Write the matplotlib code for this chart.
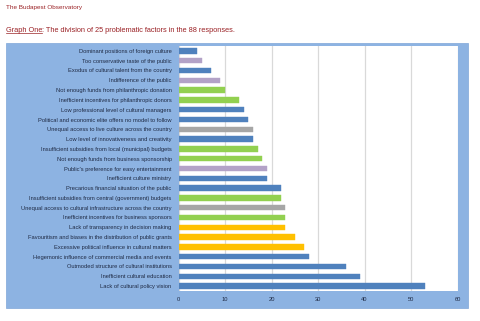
import numpy as np
import matplotlib
matplotlib.use("Agg")
import matplotlib.pyplot as plt
from matplotlib.patches import Rectangle
from matplotlib.lines import Line2D
from matplotlib import font_manager

# data (top to bottom as in the chart)
factors = [
    "Dominant positions of foreign culture",
    "Too conservative taste of the public",
    "Exodus of cultural talent from the country",
    "Indifference of the public",
    "Not enough funds from philanthropic donation",
    "Inefficient incentives for philanthropic donors",
    "Low professional level of cultural managers",
    "Political and economic elite offers no model to follow",
    "Unequal access to live culture across the country",
    "Low level of innovativeness and creativity",
    "Insufficient subsidies from local (municipal) budgets",
    "Not enough funds from business sponsorship",
    "Public's preference for easy entertainment",
    "Inefficient culture ministry",
    "Precarious financial situation of the public",
    "Insufficient subsidies from central (government) budgets",
    "Unequal access to cultural infrastructure across the country",
    "Inefficient incentives for business sponsors",
    "Lack of transparency in decision making",
    "Favouritism and biases in the distribution of public grants",
    "Excessive political influence in cultural matters",
    "Hegemonic influence of commercial media and events",
    "Outmoded structure of cultural institutions",
    "Inefficient cultural education",
    "Lack of cultural policy vision",
]
counts = [4, 5, 7, 9, 10, 13, 14, 15, 16, 16, 17, 18, 19, 19, 22, 22, 23, 23, 23, 25, 27, 28, 36, 39, 53]
groups = ["b", "p", "b", "p", "g", "g", "b", "b", "k", "b", "g", "g", "p", "b", "b", "g", "k", "g",
          "o", "o", "o", "b", "b", "b", "b"]
palette = {"b": "#4F81BD", "p": "#B3A2C7", "g": "#92D050", "k": "#A6A6A6", "o": "#FFC000"}
xticks = [0, 10, 20, 30, 40, 50, 60]

W, H = 480, 321
fig = plt.figure(figsize=(W / 100, H / 100), dpi=100)
fig.patch.set_facecolor("white")

fam = "Liberation Sans Narrow"
try:
    font_manager.findfont(fam, fallback_to_default=False)
except Exception:
    fam = "Liberation Sans"


def fx(px):
    return px / W


def fy(py):
    return 1 - py / H


def fit(t, width_px):
    # shrink/grow a text so it spans the given width in pixels
    fig.canvas.draw()
    w = t.get_window_extent().width
    t.set_fontsize(t.get_fontsize() * width_px / w)


red = "#9B2226"
t0 = fig.text(fx(6), fy(8), "The Budapest Observatory", fontsize=5, color=red,
              family=fam, va="center")
fit(t0, 78)
t1 = fig.text(fx(6), fy(30), "Graph One", fontsize=5.6, color=red, family=fam, va="center")
t2 = fig.text(fx(40), fy(30), ": The division of 25 problematic factors in the 88 responses.",
              fontsize=5.6, color=red, family=fam, va="center")
fig.canvas.draw()
full = t1.get_window_extent().width + t2.get_window_extent().width
scale = 230 / full
t1.set_fontsize(5.6 * scale)
t2.set_fontsize(5.6 * scale)
fig.canvas.draw()
bb = t1.get_window_extent()
t2.set_x(bb.x1 / W)
fig.add_artist(Line2D([bb.x0 / W, bb.x1 / W], [(bb.y0 + 0.5) / H] * 2, color=red, lw=0.5))

# blue panel
fig.add_artist(Rectangle((fx(6), fy(308)), fx(462), (308 - 43) / H, facecolor="#8DB3E2",
                         edgecolor="#7FA7D9", lw=0.5, zorder=0))

ax = fig.add_axes([fx(178.5), fy(291), fx(457.5 - 178.5), (291 - 46) / H])
ax.set_facecolor("white")
y = np.arange(len(factors))
ax.barh(y, counts, height=0.55, color=[palette[g] for g in groups],
        edgecolor=[palette[g] for g in groups], linewidth=0.3, zorder=3)
ax.set_ylim(len(factors) - 0.5, -0.5)
ax.set_xlim(0, 60)
ax.set_xticks(xticks)
ax.set_yticks(y)
ax.set_yticklabels(factors)
ax.grid(axis="x", color="#D9D9D9", lw=0.9, zorder=0)
for s in ax.spines.values():
    s.set_visible(False)
ax.tick_params(axis="y", length=0, pad=5)
ax.tick_params(axis="x", length=0, pad=4)
for lab in ax.get_yticklabels() + ax.get_xticklabels():
    lab.set_fontsize(5)
    lab.set_family(fam)
    lab.set_color("#1F2A44")

# fit the longest label to ~155 px like the reference
fig.canvas.draw()
longest = max(lab.get_window_extent().width for lab in ax.get_yticklabels())
size = 5 * 155 / longest
for lab in ax.get_yticklabels() + ax.get_xticklabels():
    lab.set_fontsize(size)

fig.savefig("out.png", dpi=100)
